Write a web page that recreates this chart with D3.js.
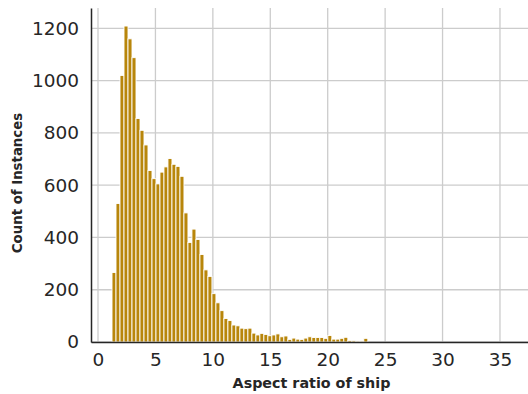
<!DOCTYPE html>
<html>
<head>
<meta charset="utf-8">
<script src="https://cdn.jsdelivr.net/npm/d3@7"></script>
<style>
  body { margin: 0; background: #fff; }
  svg { display: block; font-family: "DejaVu Sans", sans-serif; }
</style>
</head>
<body>
<svg id="chart" width="528" height="394"></svg>
<script>
// histogram bins: left edge of first bin and bin width (aspect ratio units)
const binStart = 1.22;
const binWidth = 0.348;
const counts = [
  266, 530, 1020, 1209, 1160, 1088, 855, 810, 754, 656,
  625, 605, 650, 670, 702, 680, 672, 634, 494, 381,
  432, 392, 335, 276, 251, 185, 150, 120, 90, 82,
  65, 62, 53, 51, 53, 34, 27, 33, 29, 24,
  27, 31, 20, 23, 10, 15, 11, 10, 15, 20,
  17, 17, 17, 14, 25, 11, 11, 14, 18, 6,
  5, 4, 4, 14
];
const xTicks = [0, 5, 10, 15, 20, 25, 30, 35];
const yTicks = [0, 200, 400, 600, 800, 1000, 1200];

const bins = counts.map((c, i) => ({
  x0: binStart + i * binWidth,
  x1: binStart + (i + 1) * binWidth,
  count: c
}));

const margin = { top: 8, right: 0, bottom: 52, left: 91 };
const width = 528 - margin.left - margin.right;
const height = 394 - margin.top - margin.bottom;

const svg = d3.select("#chart")
  .append("g")
  .attr("transform", `translate(${margin.left},${margin.top})`);

const x = d3.scaleLinear().domain([-0.61, 37.44]).range([0, width]);
const y = d3.scaleLinear().domain([0, 1278]).range([height, 0]);

// grid
svg.append("g").selectAll("line")
  .data(yTicks)
  .join("line")
  .attr("x1", 0).attr("x2", width)
  .attr("y1", d => y(d)).attr("y2", d => y(d))
  .style("stroke", "#cccccc")
  .style("stroke-width", 1.3);

svg.append("g").selectAll("line")
  .data(xTicks)
  .join("line")
  .attr("x1", d => x(d)).attr("x2", d => x(d))
  .attr("y1", 0).attr("y2", height)
  .style("stroke", "#cccccc")
  .style("stroke-width", 1.3);

// bars
svg.append("g").selectAll("rect")
  .data(bins)
  .join("rect")
  .attr("x", d => x(d.x0))
  .attr("y", d => y(d.count))
  .attr("width", d => x(d.x1) - x(d.x0))
  .attr("height", d => y(0) - y(d.count))
  .style("fill", "#b8860b")
  .style("stroke", "#ffffff")
  .style("stroke-width", 0.9);

// axes
const xAxis = svg.append("g")
  .attr("transform", `translate(0,${height})`)
  .call(d3.axisBottom(x).tickValues(xTicks).tickFormat(d3.format("d")).tickSize(0).tickPadding(11));

const yAxis = svg.append("g")
  .call(d3.axisLeft(y).tickValues(yTicks).tickFormat(d3.format("d")).tickSize(0).tickPadding(12));

[xAxis, yAxis].forEach(a => {
  a.select(".domain").style("stroke", "#262626").style("stroke-width", 1.5);
  a.selectAll("text")
    .style("font-family", "DejaVu Sans")
    .style("font-size", "18.5px")
    .style("fill", "#262626");
});

// labels
svg.append("text")
  .attr("x", width / 2 + 2)
  .attr("y", height + 46)
  .attr("text-anchor", "middle")
  .style("font-size", "14.3px")
  .style("font-weight", "bold")
  .style("fill", "#262626")
  .text("Aspect ratio of ship");

svg.append("text")
  .attr("transform", `translate(${-69},${(height / 2) + 8}) rotate(-90)`)
  .attr("text-anchor", "middle")
  .style("font-size", "13.3px")
  .style("font-weight", "bold")
  .style("fill", "#262626")
  .text("Count of Instances");
</script>
</body>
</html>
